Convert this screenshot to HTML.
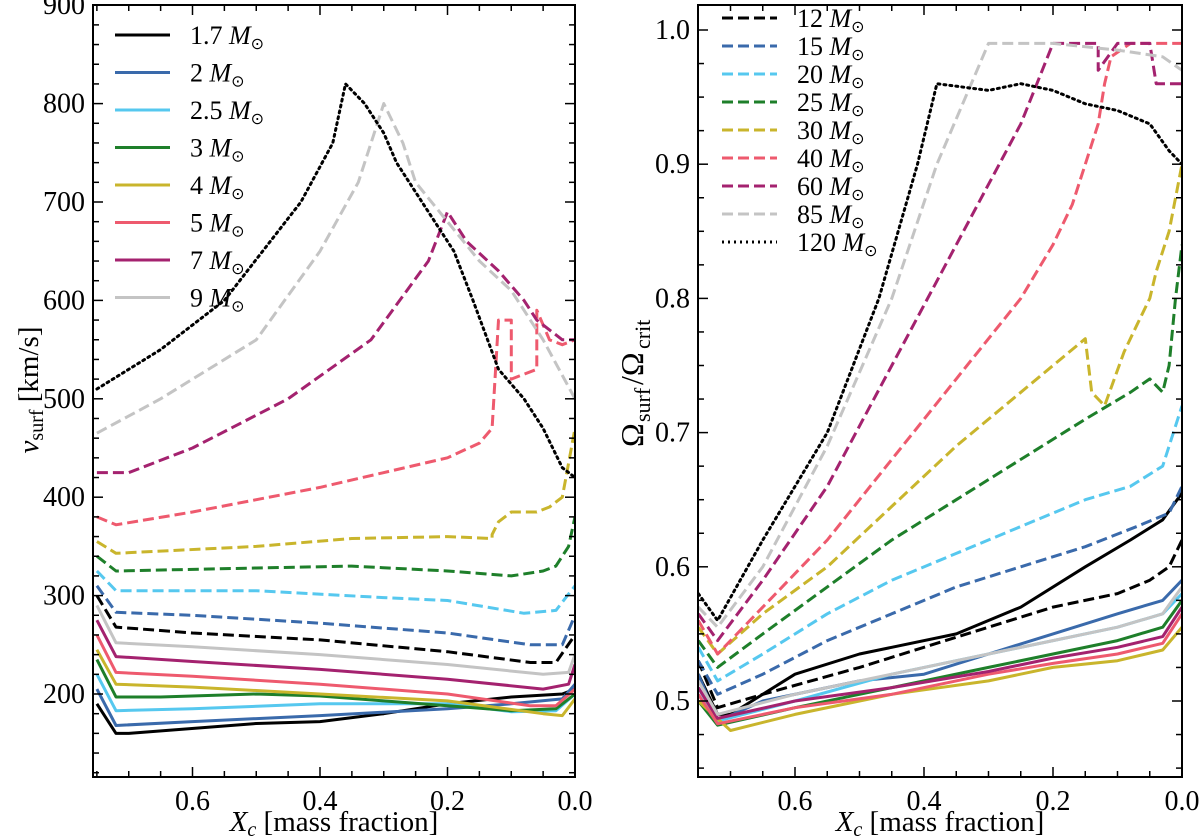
<!DOCTYPE html>
<html><head><meta charset="utf-8">
<style>
body{margin:0;background:#fff;}
svg{display:block;font-family:"Liberation Serif",serif;}
</style></head>
<body>
<svg id="c" width="1200" height="839" viewBox="0 0 1200 839"></svg>
<script>
// Left panel data (Xc, v_surf km/s)
const leftNames=["1.7","2","2.5","3","4","5","7","9","12","15","20","25","30","40","60","85","120"];
const colors=["#000","#3a6aab","#56c8ef","#1e7f2a","#c9b52c","#ee5a6e","#a4226f","#c4c4c4","#000","#3a6aab","#56c8ef","#1e7f2a","#c9b52c","#ee5a6e","#a4226f","#c4c4c4","#000"];
const styles=["s","s","s","s","s","s","s","s","d","d","d","d","d","d","d","d","o"];
const leftX=[
[0.75,0.72,0.7,0.5,0.4,0.3,0.2,0.1,0.02,0],
[0.75,0.72,0.6,0.4,0.2,0.1,0.02,0],
[0.75,0.72,0.6,0.4,0.2,0.1,0.03,0],
[0.75,0.72,0.65,0.5,0.4,0.3,0.2,0.1,0.03,0],
[0.75,0.72,0.6,0.4,0.2,0.05,0.02,0],
[0.75,0.72,0.6,0.4,0.2,0.07,0.03,0],
[0.75,0.72,0.6,0.4,0.2,0.05,0.01,0],
[0.75,0.72,0.6,0.4,0.2,0.05,0.01,0],
[0.75,0.72,0.6,0.4,0.2,0.07,0.03,0],
[0.75,0.72,0.6,0.4,0.2,0.07,0.02,0],
[0.75,0.72,0.5,0.3,0.2,0.08,0.03,0],
[0.75,0.72,0.5,0.35,0.2,0.1,0.05,0.03,0.01,0],
[0.75,0.72,0.5,0.35,0.2,0.13,0.13,0.12,0.1,0.06,0.04,0.02,0],
[0.75,0.72,0.6,0.4,0.2,0.15,0.13,0.12,0.1,0.1,0.08,0.06,0.06,0.04,0.02,0],
[0.75,0.7,0.6,0.45,0.32,0.23,0.2,0.17,0.12,0.08,0.06,0.02,0],
[0.75,0.65,0.5,0.4,0.34,0.3,0.27,0.25,0.2,0.15,0.1,0.05,0],
[0.75,0.65,0.55,0.43,0.38,0.36,0.33,0.3,0.28,0.24,0.19,0.16,0.12,0.08,0.05,0.02,0]];
const leftY=[
[190,160,160,170,172,180,190,197,200,205],
[205,168,172,178,185,190,195,210],
[220,183,185,190,190,182,183,200],
[235,197,197,200,198,193,188,183,185,200],
[245,210,207,200,193,180,178,195],
[260,222,218,210,200,188,188,205],
[275,238,233,225,215,205,210,230],
[290,252,248,240,230,220,222,240],
[300,268,262,255,243,232,232,260],
[310,283,280,272,262,250,250,280],
[325,305,305,298,295,282,285,310],
[340,325,328,330,325,320,325,330,350,380],
[355,343,350,358,360,358,362,375,385,385,390,400,470],
[380,372,385,410,440,455,470,580,580,520,525,530,590,560,555,560],
[425,425,450,500,560,640,690,660,630,600,580,560,560],
[465,500,560,650,720,800,760,720,680,640,610,560,500],
[510,550,600,700,760,820,800,770,740,700,650,600,530,500,470,430,420]];
// Right panel data (Xc, Omega ratio)
const rightX=[
[0.75,0.72,0.7,0.6,0.5,0.45,0.35,0.25,0.15,0.08,0.03,0],
[0.75,0.72,0.65,0.5,0.4,0.3,0.2,0.1,0.03,0],
[0.75,0.72,0.6,0.45,0.3,0.2,0.1,0.03,0],
[0.75,0.72,0.6,0.45,0.3,0.2,0.1,0.03,0],
[0.75,0.7,0.6,0.45,0.3,0.2,0.1,0.03,0],
[0.75,0.72,0.6,0.45,0.3,0.2,0.1,0.03,0],
[0.75,0.72,0.6,0.45,0.3,0.2,0.1,0.03,0],
[0.75,0.72,0.6,0.45,0.3,0.2,0.1,0.03,0],
[0.75,0.72,0.65,0.5,0.4,0.3,0.2,0.1,0.05,0.02,0],
[0.75,0.72,0.65,0.55,0.45,0.35,0.25,0.15,0.07,0.02,0],
[0.75,0.72,0.65,0.55,0.45,0.35,0.25,0.15,0.08,0.03,0],
[0.75,0.72,0.65,0.55,0.45,0.35,0.25,0.15,0.08,0.05,0.03,0.02,0.01,0],
[0.75,0.72,0.65,0.55,0.45,0.35,0.25,0.2,0.15,0.14,0.12,0.09,0.07,0.05,0.04,0.02,0],
[0.75,0.72,0.65,0.55,0.45,0.35,0.25,0.2,0.17,0.15,0.13,0.12,0.11,0.08,0],
[0.75,0.72,0.65,0.55,0.45,0.35,0.25,0.2,0.13,0.13,0.1,0.05,0.04,0],
[0.75,0.72,0.65,0.55,0.45,0.38,0.3,0.2,0.1,0.03,0],
[0.75,0.72,0.65,0.55,0.47,0.41,0.38,0.3,0.25,0.2,0.15,0.1,0.05,0.02,0]];
const rightY=[
[0.52,0.49,0.49,0.52,0.535,0.54,0.55,0.57,0.6,0.62,0.635,0.655],
[0.52,0.485,0.5,0.515,0.52,0.535,0.55,0.565,0.575,0.59],
[0.51,0.485,0.5,0.52,0.535,0.545,0.555,0.565,0.58],
[0.5,0.482,0.495,0.51,0.525,0.535,0.545,0.555,0.575],
[0.5,0.478,0.49,0.505,0.515,0.525,0.53,0.538,0.555],
[0.505,0.483,0.495,0.505,0.52,0.528,0.535,0.543,0.565],
[0.51,0.487,0.5,0.51,0.522,0.532,0.54,0.548,0.57],
[0.515,0.49,0.505,0.52,0.535,0.545,0.555,0.565,0.585],
[0.53,0.495,0.505,0.525,0.54,0.555,0.57,0.58,0.59,0.6,0.62],
[0.53,0.505,0.52,0.545,0.565,0.585,0.6,0.615,0.63,0.64,0.66],
[0.54,0.515,0.535,0.565,0.59,0.61,0.63,0.65,0.66,0.675,0.72],
[0.545,0.525,0.55,0.585,0.62,0.65,0.68,0.71,0.73,0.74,0.73,0.75,0.8,0.84],
[0.555,0.535,0.565,0.6,0.645,0.69,0.73,0.75,0.77,0.73,0.72,0.76,0.78,0.8,0.82,0.85,0.9],
[0.56,0.535,0.57,0.62,0.68,0.74,0.8,0.84,0.87,0.9,0.93,0.96,0.98,0.99,0.99],
[0.565,0.545,0.59,0.66,0.75,0.84,0.93,0.99,0.99,0.97,0.99,0.99,0.96,0.96],
[0.57,0.555,0.6,0.69,0.8,0.9,0.99,0.99,0.985,0.98,0.97],
[0.58,0.56,0.62,0.7,0.8,0.9,0.96,0.955,0.96,0.955,0.945,0.94,0.93,0.91,0.9]];
const xTicks=["0.6","0.4","0.2","0.0"];
const leftYTicks=["200","300","400","500","600","700","800","900"];
const rightYTicks=["0.5","0.6","0.7","0.8","0.9","1.0"];

const NS="http://www.w3.org/2000/svg";
const svg=document.getElementById('c');
function mk(t,a,p){const e=document.createElementNS(NS,t);for(const k in a)e.setAttribute(k,a[k]);(p||svg).appendChild(e);return e;}
const L={x0:93,x1:575,y0:5,y1:777,sx:v=>575-v*637.5,sy:v=>694-(v-200)*0.984};
const R={x0:698,x1:1182,y0:5,y1:777,sx:v=>1182-v*645,sy:v=>701-(v-0.5)*1342};
function dash(s){return s==="d"?"11,5":s==="o"?"2,4":"none";}
function drawPanel(P,xs,ys,name){
  const g=mk('g',{});
  
  
  const clip=mk('clipPath',{id:'clip'+name},g);mk('rect',{x:P.x0,y:P.y0,width:P.x1-P.x0,height:P.y1-P.y0},clip);
  const lg=mk('g',{'clip-path':'url(#clip'+name+')'},g);
  for(let i=0;i<xs.length;i++){
    const pts=xs[i].map((x,j)=>P.sx(x).toFixed(1)+','+P.sy(ys[i][j]).toFixed(1)).join(' ');
    const pl=mk('polyline',{points:pts,fill:'none',stroke:colors[i],'stroke-width':3,'stroke-dasharray':dash(styles[i]),'stroke-linejoin':'round','stroke-linecap':styles[i]==='o'?'round':'butt'},lg);
    
    
  }
  const fr=mk('rect',{x:P.x0,y:P.y0,width:P.x1-P.x0,height:P.y1-P.y0,fill:'none',stroke:'#000','stroke-width':2},g);
  
  
}
function ticksX(P,name){
  for(let k=0;k<=15;k++){const v=k*0.05;const x=P.sx(v);if(x<P.x0)continue;const len=k%4===0?10:6;
    mk('line',{x1:x,x2:x,y1:P.y1,y2:P.y1-len,stroke:'#000','stroke-width':1.5});
    mk('line',{x1:x,x2:x,y1:P.y0,y2:P.y0+len,stroke:'#000','stroke-width':1.5});}
  xTicks.forEach(t=>{const v=parseFloat(t);const e=mk('text',{x:P.sx(v),y:P.y1+33,'font-size':28,'text-anchor':'middle'});e.textContent=t;
    });
  const xt=mk('text',{x:(P.x0+P.x1)/2,y:P.y1+54,'font-size':29,'text-anchor':'middle'});
  xt.innerHTML='<tspan font-style="italic">X</tspan><tspan font-style="italic" font-size="20" baseline-shift="-5">c</tspan><tspan> [mass fraction]</tspan>';
  
}
drawPanel(L,leftX,leftY,'left');
drawPanel(R,rightX,rightY,'right');
ticksX(L,'left');ticksX(R,'right');
for(let v=120;v<=900;v+=20){const y=L.sy(v);if(y<L.y0-1)continue;const len=v%100===0?10:6;
  mk('line',{x1:L.x0,x2:L.x0+len,y1:y,y2:y,stroke:'#000','stroke-width':1.5});
  mk('line',{x1:L.x1,x2:L.x1-len,y1:y,y2:y,stroke:'#000','stroke-width':1.5});}
leftYTicks.forEach(t=>{const e=mk('text',{x:L.x0-8,y:L.sy(+t)+9,'font-size':28,'text-anchor':'end'});e.textContent=t;
  });
for(let k=0;k<=24;k++){const v=0.45+k*0.025;const y=R.sy(v);if(y<R.y0-1||y>R.y1)continue;const len=k%4===2?10:6;
  mk('line',{x1:R.x0,x2:R.x0+len,y1:y,y2:y,stroke:'#000','stroke-width':1.5});
  mk('line',{x1:R.x1,x2:R.x1-len,y1:y,y2:y,stroke:'#000','stroke-width':1.5});}
rightYTicks.forEach(t=>{const e=mk('text',{x:R.x0-8,y:R.sy(+t)+9,'font-size':28,'text-anchor':'end'});e.textContent=t;
  });
const ly=mk('text',{transform:'translate(38,390) rotate(-90)','font-size':29,'text-anchor':'middle'});
ly.innerHTML='<tspan font-style="italic">v</tspan><tspan font-size="20" baseline-shift="-5">surf</tspan><tspan> [km/s]</tspan>';

const ry=mk('g',{transform:'translate(643,447) rotate(-90)'});

const rt1=mk('text',{x:0,y:0,'font-size':32},ry);rt1.textContent='Ω';
const rt2=mk('text',{x:25,y:7,'font-size':22},ry);rt2.textContent='surf';
const rt3=mk('text',{x:62,y:0,'font-size':32},ry);rt3.textContent='/Ω';
const rt4=mk('text',{x:98,y:7,'font-size':22},ry);rt4.textContent='crit';
function legend(x,y0,dy,from,to,name){
  for(let i=from;i<to;i++){const y=y0+(i-from)*dy;
    const ln=mk('line',{x1:x,x2:x+55,y1:y,y2:y,stroke:colors[i],'stroke-width':3,'stroke-dasharray':dash(styles[i])});
    
    const t=mk('text',{x:x+75,y:y+9,'font-size':26});
    t.innerHTML=leftNames[i]+' <tspan font-style="italic">M</tspan><tspan font-size="16" baseline-shift="-5">⊙</tspan>';
    }
}
legend(115,35,37.5,0,8,'left');
legend(722,18,28,8,17,'right');
</script>
</body></html>
